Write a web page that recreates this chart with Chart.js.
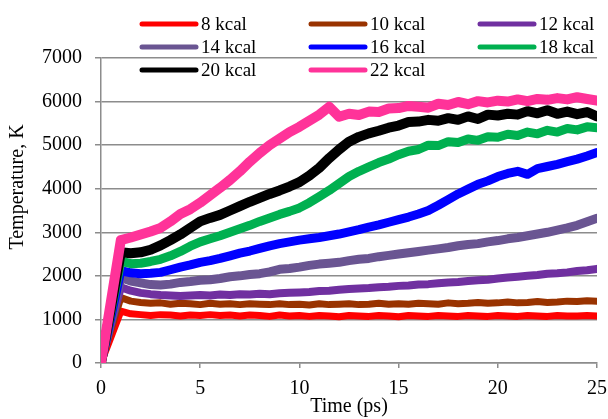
<!DOCTYPE html>
<html>
<head>
<meta charset="utf-8">
<script src="https://cdn.jsdelivr.net/npm/chart.js@4/dist/chart.umd.min.js"></script>
<style>
  html, body { margin: 0; padding: 0; background: #fff; }
  #wrap { width: 608px; height: 419px; }
</style>
</head>
<body>
<div id="wrap"><canvas id="tempChart" width="608" height="419"></canvas></div>
<script>
// time axis (ps), one reading every 0.5 ps
const times = [0,0.5,1,1.5,2,2.5,3,3.5,4,4.5,
  5,5.5,6,6.5,7,7.5,8,8.5,9,9.5,
  10,10.5,11,11.5,12,12.5,13,13.5,14,14.5,
  15,15.5,16,16.5,17,17.5,18,18.5,19,19.5,
  20,20.5,21,21.5,22,22.5,23,23.5,24,24.5,25];

const labels = ['8 kcal', '10 kcal', '12 kcal', '14 kcal', '16 kcal', '18 kcal', '20 kcal', '22 kcal'];
const colors = ['#ff0000', '#993300', '#7030a0', '#6a5592', '#0000ff', '#00b050', '#000000', '#ff3399'];

// temperatures (K)
const kcal8 = [0,590,1190,1130,1110,1090,1110,1100,1080,1100,
  1090,1110,1090,1100,1080,1100,1090,1070,1100,1080,
  1090,1070,1090,1080,1060,1090,1080,1070,1090,1080,
  1060,1090,1080,1070,1090,1080,1070,1090,1080,1070,
  1090,1080,1070,1090,1080,1070,1090,1080,1080,1090,1080];
const kcal10 = [0,750,1500,1420,1390,1370,1380,1350,1370,1360,
  1340,1370,1350,1360,1340,1360,1350,1340,1360,1340,
  1350,1330,1360,1340,1350,1360,1340,1350,1370,1350,
  1360,1350,1370,1360,1350,1380,1360,1370,1390,1370,
  1380,1400,1380,1390,1410,1390,1400,1420,1410,1430,1420];
const kcal12 = [0,870,1740,1660,1610,1580,1560,1550,1540,1550,
  1560,1550,1570,1560,1580,1570,1590,1580,1600,1610,
  1620,1630,1650,1660,1680,1700,1710,1720,1740,1750,
  1770,1780,1800,1810,1830,1850,1860,1880,1900,1910,
  1940,1960,1980,2000,2020,2050,2060,2080,2110,2130,2160];
const kcal14 = [0,980,1960,1880,1840,1800,1790,1810,1850,1870,
  1900,1910,1940,1980,2000,2030,2050,2090,2150,2170,
  2200,2240,2270,2290,2310,2350,2380,2400,2440,2470,
  2500,2530,2560,2590,2620,2650,2690,2720,2740,2780,
  2810,2850,2880,2920,2960,3000,3050,3100,3160,3240,3320];
const kcal16 = [0,1060,2120,2070,2050,2060,2080,2140,2200,2250,
  2310,2350,2400,2460,2520,2570,2630,2690,2740,2780,
  2820,2850,2880,2920,2960,3010,3060,3120,3170,3230,
  3290,3350,3420,3500,3620,3750,3880,3990,4100,4180,
  4280,4350,4400,4330,4460,4510,4560,4620,4680,4750,4830];
const kcal18 = [0,1170,2340,2280,2290,2330,2380,2460,2560,2680,
  2780,2850,2920,3000,3080,3160,3250,3330,3410,3480,
  3560,3680,3820,3960,4120,4280,4400,4500,4600,4680,
  4780,4860,4900,5000,4990,5080,5060,5140,5110,5190,
  5180,5250,5220,5300,5260,5340,5300,5380,5350,5420,5400];
const kcal20 = [0,1270,2540,2520,2540,2600,2700,2820,2950,3100,
  3250,3330,3400,3500,3600,3700,3790,3880,3960,4050,
  4150,4300,4480,4700,4900,5080,5190,5270,5330,5400,
  5450,5530,5540,5580,5560,5620,5580,5660,5600,5700,
  5680,5720,5700,5780,5730,5800,5720,5770,5710,5760,5660];
const kcal22 = [0,1410,2820,2880,2950,3020,3100,3250,3420,3530,
  3680,3850,4020,4200,4400,4620,4820,5000,5150,5300,
  5420,5560,5700,5880,5650,5720,5690,5770,5760,5840,
  5850,5900,5880,5860,5950,5920,5990,5940,6010,5980,
  6020,6000,6050,6010,6060,6040,6080,6050,6100,6060,6020];

const series = [kcal8, kcal10, kcal12, kcal14, kcal16, kcal18, kcal20, kcal22];
const widths = [7, 7, 8, 9, 9, 9, 10, 10];

const yTicks = [0, 1000, 2000, 3000, 4000, 5000, 6000, 7000];
const xTicks = [0, 5, 10, 15, 20, 25];

const FONT = '"Liberation Serif", "Times New Roman", serif';
const GRID = '#8c8c8c';

Chart.defaults.font.family = FONT;
Chart.defaults.color = '#000';

// legend + axis titles drawn by hand so they sit where the original has them
const extras = {
  id: 'extras',
  afterDraw(chart) {
    const ctx = chart.ctx;
    const area = chart.chartArea;
    ctx.save();
    const colX = [142, 311, 480];
    const rowY = [24, 47, 70];
    ctx.font = '19px ' + FONT;
    ctx.textBaseline = 'middle';
    ctx.textAlign = 'left';
    ctx.lineCap = 'round';
    ctx.lineWidth = 5;
    labels.forEach(function(lbl, i) {
      const x = colX[i % 3];
      const y = rowY[Math.floor(i / 3)];
      ctx.strokeStyle = colors[i];
      ctx.beginPath();
      ctx.moveTo(x, y);
      ctx.lineTo(x + 54, y);
      ctx.stroke();
      ctx.fillStyle = '#000';
      ctx.fillText(lbl, x + 59, y + 1);
    });
    ctx.font = '20px ' + FONT;
    ctx.textAlign = 'center';
    ctx.fillText('Time (ps)', (area.left + area.right) / 2, 407);
    ctx.translate(18, 187);
    ctx.rotate(-Math.PI / 2);
    ctx.fillText('Temperature, K', 0, 0);
    ctx.restore();
  }
};

const datasets = series.map(function(vals, i) {
  return {
    label: labels[i],
    data: vals.map(function(v, j) { return { x: times[j], y: v }; }),
    borderColor: colors[i],
    backgroundColor: colors[i],
    borderWidth: widths[i],
    borderJoinStyle: 'round',
    borderCapStyle: 'round',
    pointRadius: 0,
    tension: 0,
    fill: false,
    order: -i
  };
});

new Chart(document.getElementById('tempChart').getContext('2d'), {
  type: 'line',
  data: { datasets: datasets },
  plugins: [extras],
  options: {
    responsive: false,
    animation: false,
    devicePixelRatio: 1,
    layout: { padding: { top: 58, right: 11, left: 0, bottom: 0 } },
    plugins: { legend: { display: false }, tooltip: { enabled: false } },
    scales: {
      x: {
        type: 'linear',
        min: 0, max: 25,
        afterBuildTicks: function(s) { s.ticks = xTicks.map(function(v) { return { value: v }; }); },
        afterFit: function(s) { s.height = 56; s.paddingLeft = 0; s.paddingRight = 0; },
        grid: { drawOnChartArea: false, drawTicks: true, tickLength: 5, color: GRID, lineWidth: 1.5 },
        border: { color: GRID, width: 1.5 },
        ticks: { color: '#000', padding: 9, maxRotation: 0, font: { family: FONT, size: 20 } }
      },
      y: {
        min: 0, max: 7000,
        afterBuildTicks: function(s) { s.ticks = yTicks.map(function(v) { return { value: v }; }); },
        afterFit: function(s) { s.width = 101; s.paddingTop = 0; s.paddingBottom = 0; },
        grid: { color: GRID, lineWidth: 1.5, tickLength: 6 },
        border: { color: GRID, width: 1.5 },
        ticks: { color: '#000', padding: 13, font: { family: FONT, size: 20 }, callback: function(v) { return String(v); } }
      }
    }
  }
});
</script>
</body>
</html>
